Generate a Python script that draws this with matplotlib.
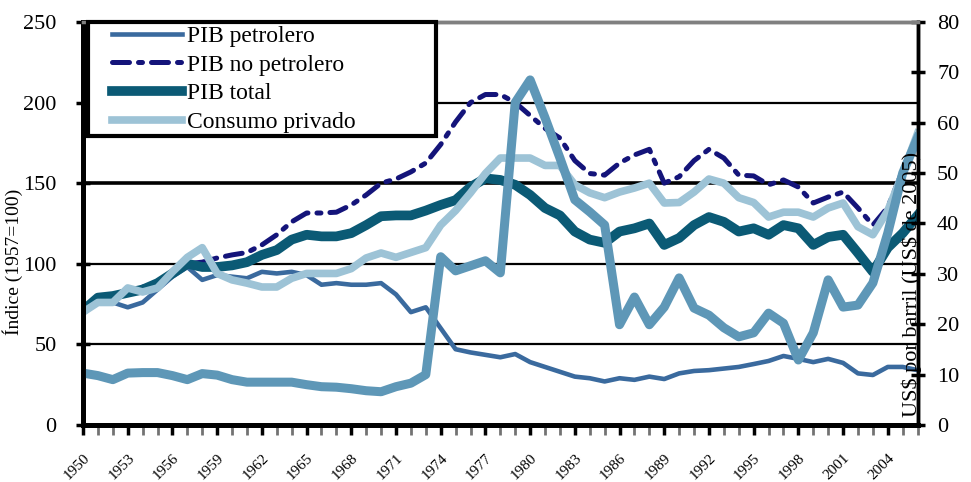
import matplotlib
matplotlib.use("Agg")
import matplotlib.pyplot as plt
from matplotlib.lines import Line2D
from matplotlib.legend_handler import HandlerLine2D

plt.rcParams["font.family"] = ["Liberation Serif", "DejaVu Serif"]

years = list(range(1950, 2007))

pib_petrolero = [70, 79, 76, 73, 76, 84, 92, 98, 90, 93,
                 92, 91, 95, 94, 95, 93, 87, 88, 87, 87,
                 88, 81, 70, 73, 60, 47, 45, 43.5, 42, 44,
                 39, 36, 33, 30, 29, 27, 29, 28, 30, 28.5,
                 32, 33.5, 34, 35, 36, 37.8, 39.7, 42.8, 41, 39,
                 41, 38.5, 32, 31, 36, 36, 34]

pib_no_petrolero = [70, 78, 80, 83, 85.5, 88, 94, 100, 101, 103.6,
                    105.5, 107, 111.7, 118, 126, 131.5, 131.5, 132, 136.5, 142.7,
                    150, 152.6, 157, 162.5, 174, 188, 200, 205, 205, 200,
                    192, 184, 178, 164, 156, 155, 162.5, 167.5, 171, 150,
                    154, 164, 171, 165.6, 155, 154.5, 149, 152, 147.6, 137.7,
                    141.4, 144.5, 134.6, 124, 135, 158, 180]

pib_total = [71, 79, 80, 82, 84, 88, 94, 100, 98, 98,
             99, 101, 105.5, 108.5, 115, 118, 117, 117, 119, 124,
             129.5, 130, 130, 133, 136.5, 139.5, 147.6, 153, 152, 149,
             142.7, 134.6, 130, 120, 115, 113, 120, 122, 125, 111.7,
             116, 124, 129, 126, 120, 122, 118, 124, 122, 111.7,
             116.6, 118, 106.7, 95, 110, 119, 130]

consumo_privado = [70, 76, 76, 85, 82.5, 85, 95, 104, 110, 94,
                   90, 88, 85.6, 85.6, 91, 94, 94, 94, 97, 103.6,
                   106.7, 104, 107, 110, 124, 133, 144, 156, 165.6, 165.6,
                   165.6, 161, 161, 149, 144, 141, 144.5, 147, 150, 137.7,
                   138, 144.5, 152.6, 150, 141, 138, 129, 132, 132, 129,
                   134.6, 137.7, 123, 118, 133, 156, 181]

# precio del petroleo, eje derecho
precio_petroleo = [10.3, 9.8, 9.0, 10.3, 10.4, 10.4, 9.8, 9.0, 10.2, 9.9,
                   9.0, 8.5, 8.5, 8.5, 8.5, 8.0, 7.6, 7.5, 7.2, 6.8,
                   6.6, 7.6, 8.3, 10.0, 33.4, 30.6, 31.6, 32.6, 30.2, 64,
                   68.5, 61, 53, 44.7, 42.3, 39.7, 19.9, 25.4, 19.9, 23.4,
                   29.2, 23.2, 21.8, 19.3, 17.5, 18.3, 22.2, 20.2, 12.9, 18.3,
                   28.8, 23.4, 23.8, 28.2, 38.1, 50, 57]

tick_years = years[::3]

fig = plt.figure(figsize=(9.71, 4.82), dpi=100)
ax = fig.add_axes([0.0855, 0.1183, 0.8595, 0.8361])
ax2 = ax.twinx()

# gridlines
for g in (50, 100, 200):
    ax.axhline(g, color="black", lw=1.6, zorder=0.5)
ax.axhline(150, color="black", lw=2.6, zorder=0.5)

ax.plot(years, pib_petrolero, color="#3A6A9E", lw=3.3, label="PIB petrolero",
        solid_joinstyle="round")
ax.plot(years, pib_no_petrolero, color="#14147A", lw=3.6, label="PIB no petrolero",
        dashes=(3.4, 1.8, 0.8, 1.8), dash_capstyle="round")
ax.plot(years, pib_total, color="#0B5A75", lw=7, label="PIB total",
        solid_joinstyle="round")
ax.plot(years, consumo_privado, color="#9DC3D6", lw=5.5, label="Consumo privado",
        solid_joinstyle="round")
ax2.plot(years, precio_petroleo, color="#5E97B7", lw=6.5, solid_joinstyle="round")

ax.set_xlim(1950, 2006)
ax.set_ylim(0, 250)
ax2.set_ylim(0, 80)

ax.set_yticks(range(0, 251, 50))
ax2.set_yticks(range(0, 81, 10))
ax.set_xticks(tick_years)
ax.set_xticks(years, minor=True)
ax.set_xticklabels([str(y) for y in tick_years], rotation=45, ha="right",
                   rotation_mode="anchor", fontsize=11)

ax.tick_params(axis="y", direction="inout", length=10, width=2.5, labelsize=16, pad=14)
ax2.tick_params(axis="y", direction="inout", length=10, width=2.5, labelsize=16, pad=9)
ax.tick_params(axis="x", which="major", direction="out", length=7, width=2.5,
               labelsize=11, pad=12)
ax.tick_params(axis="x", which="minor", direction="out", length=7, width=2,
               color="0.45")

for a in (ax, ax2):
    a.spines["left"].set_linewidth(3.5)
    a.spines["bottom"].set_linewidth(3.5)
    a.spines["right"].set_linewidth(2.5)
    a.spines["top"].set_linewidth(2.5)
    a.spines["top"].set_color("0.5")

fig.text(0.013, 0.456, "Índice (1957=100)", rotation=90, ha="center", va="center",
         fontsize=14)
fig.text(0.939, 0.41, "US\\$ por barril (US\\$ de 2005)", rotation=90, ha="center",
         va="center", fontsize=16)

handles, labels = ax.get_legend_handles_labels()
leg = ax2.legend(handles, labels, loc="upper left",
                 bbox_to_anchor=(0.006, 1.0, 0.417, 0.0), mode="expand",
                 borderaxespad=0, fancybox=False, framealpha=1,
                 edgecolor="black", fontsize=17, handlelength=3.85,
                 labelspacing=0.3, borderpad=0.15, handletextpad=0.2,
                 handler_map={Line2D: HandlerLine2D(xpad=0.85)})
leg.get_frame().set_linewidth(3)

fig.savefig("out.png", dpi=100)
